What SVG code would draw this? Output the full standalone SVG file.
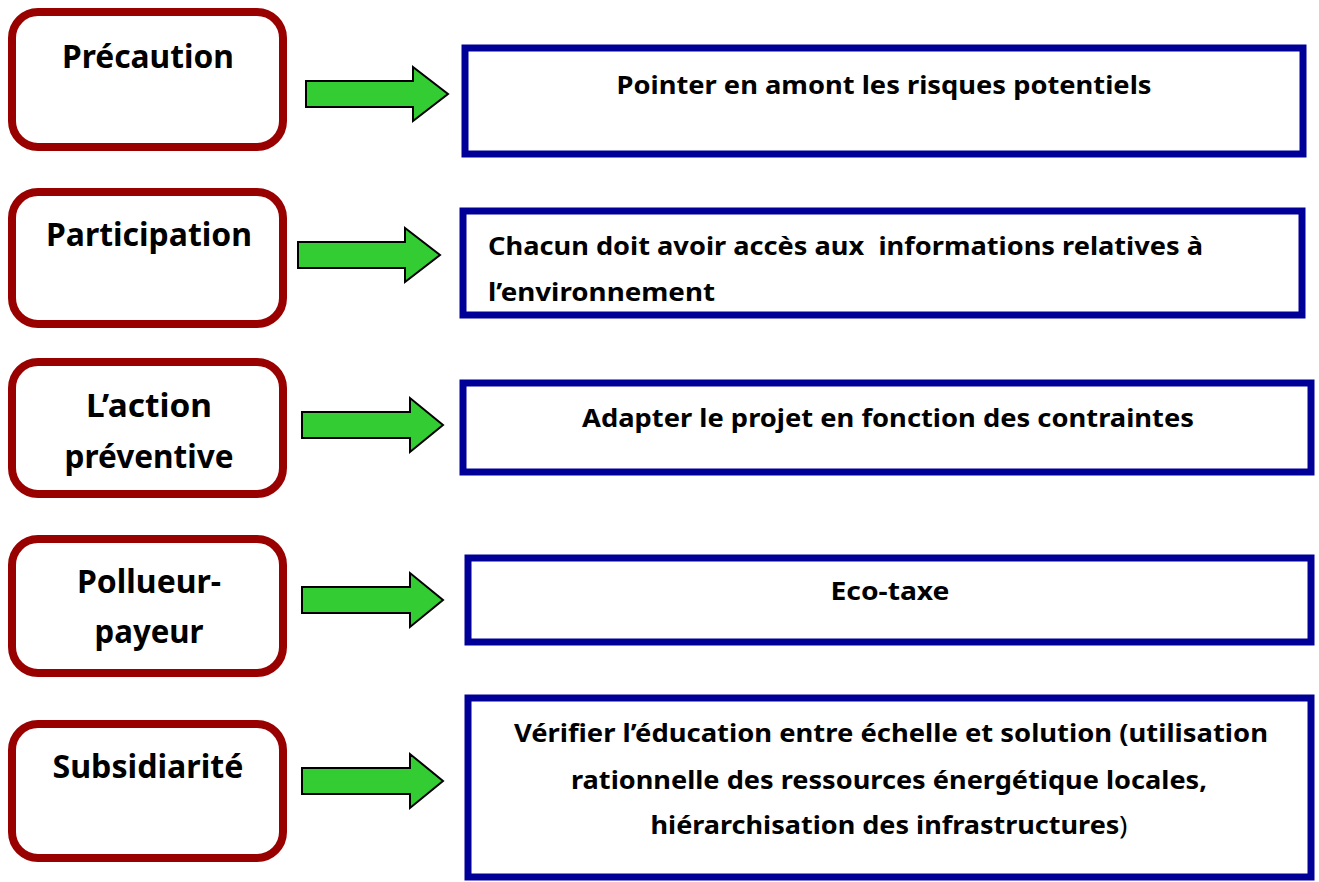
<svg xmlns="http://www.w3.org/2000/svg" width="1319" height="882" viewBox="0 0 1319 882">
<style>
.node rect{fill:#fff;stroke:#990000;stroke-width:8}
.box rect{fill:#fff;stroke:#000099;stroke-width:7}
.arrow{fill:#33cc33;stroke:#000;stroke-width:2;stroke-linejoin:miter}
text{font-family:"Noto Sans","Open Sans","DejaVu Sans",sans-serif;font-weight:700;fill:#000}
.nt{font-size:33px;text-anchor:middle}
.bt{font-size:25.5px}
.c{text-anchor:middle}
</style>
<rect width="1319" height="882" fill="#fff"/>
<g id="n1" class="node"><rect x="12" y="12" width="271" height="135" rx="26"/><text class="nt" x="148" y="68" textLength="172" lengthAdjust="spacingAndGlyphs">Précaution</text></g>
<g id="n2" class="node"><rect x="12" y="192" width="271" height="132" rx="26"/><text class="nt" x="149" y="246" textLength="206" lengthAdjust="spacingAndGlyphs">Participation</text></g>
<g id="n3" class="node"><rect x="12" y="362" width="271" height="132" rx="26"/><text class="nt" x="149" y="417" textLength="126" lengthAdjust="spacingAndGlyphs">L’action</text><text class="nt" x="149" y="468" textLength="169" lengthAdjust="spacingAndGlyphs">préventive</text></g>
<g id="n4" class="node"><rect x="12" y="539" width="271" height="134" rx="26"/><text class="nt" x="149" y="593" textLength="144" lengthAdjust="spacingAndGlyphs">Pollueur-</text><text class="nt" x="149" y="643" textLength="109" lengthAdjust="spacingAndGlyphs">payeur</text></g>
<g id="n5" class="node"><rect x="12" y="724" width="271" height="134" rx="26"/><text class="nt" x="148" y="778" textLength="191" lengthAdjust="spacingAndGlyphs">Subsidiarité</text></g>
<g id="connectors">
<path class="arrow" d="M306 81H413V67L448 94L413 121V107H306Z"/>
<path class="arrow" d="M298 242H405V228L440 255L405 282V268H298Z"/>
<path class="arrow" d="M302 412H410V398L443 425L410 452V438H302Z"/>
<path class="arrow" d="M302 587H410V573L443 600L410 627V613H302Z"/>
<path class="arrow" d="M302 768H410V754L443 781L410 808V794H302Z"/>
</g>
<g id="b1" class="box"><rect x="465" y="48" width="838" height="106"/><text class="bt c" x="884" y="94" textLength="535" lengthAdjust="spacingAndGlyphs">Pointer en amont les risques potentiels</text></g>
<g id="b2" class="box"><rect x="463" y="211" width="839" height="104"/><text class="bt" x="488" y="255" textLength="715" lengthAdjust="spacingAndGlyphs" xml:space="preserve">Chacun doit avoir accès aux  informations relatives à</text><text class="bt" x="488" y="301" textLength="227" lengthAdjust="spacingAndGlyphs">l’environnement</text></g>
<g id="b3" class="box"><rect x="463" y="383" width="848" height="89"/><text class="bt c" x="888" y="427" textLength="612" lengthAdjust="spacingAndGlyphs">Adapter le projet en fonction des contraintes</text></g>
<g id="b4" class="box"><rect x="468" y="558" width="843" height="84"/><text class="bt c" x="890" y="600" textLength="119" lengthAdjust="spacingAndGlyphs">Eco-taxe</text></g>
<g id="b5" class="box"><rect x="468" y="698" width="843" height="179"/><text class="bt c" x="891" y="742" textLength="754" lengthAdjust="spacingAndGlyphs">Vérifier l’éducation entre échelle et solution (utilisation</text><text class="bt c" x="889" y="789" textLength="636" lengthAdjust="spacingAndGlyphs">rationnelle des ressources énergétique locales,</text><text class="bt c" x="889" y="834" textLength="477" lengthAdjust="spacingAndGlyphs">hiérarchisation des infrastructures<tspan font-weight="400">)</tspan></text></g>
</svg>
